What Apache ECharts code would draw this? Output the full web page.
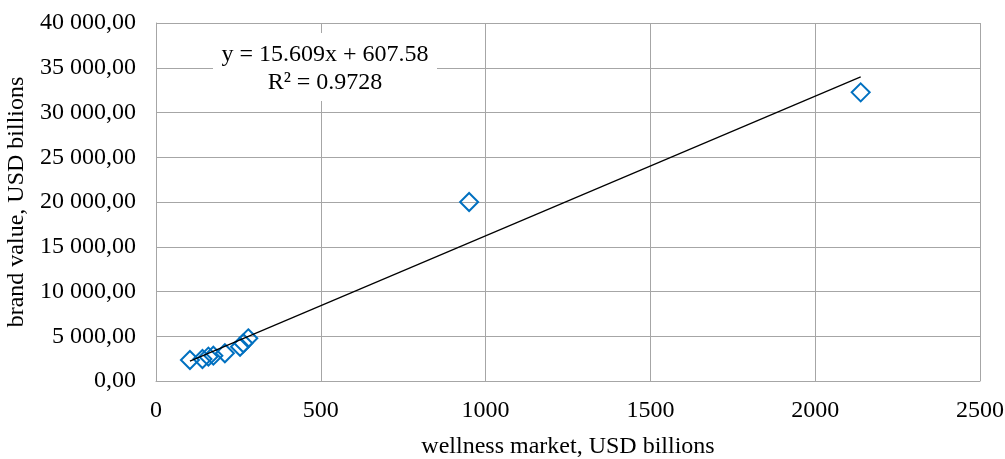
<!DOCTYPE html>
<html>
<head>
<meta charset="utf-8">
<script src="https://cdn.jsdelivr.net/npm/echarts@6/dist/echarts.min.js"></script>
<style>html,body{margin:0;padding:0;background:#fff}#c{width:1005px;height:459px}</style>
</head>
<body>
<div id="c"></div>
<script>
const wellness = [103, 141, 159, 174, 209, 255, 265, 280, 950, 2138];
const brand = [2350, 2460, 2720, 2830, 3100, 3830, 4210, 4770, 20000, 32250];
const slope = 15.609, intercept = 607.58, r2 = 0.9728;
const xTicks = [0, 500, 1000, 1500, 2000, 2500];
const yTicks = [0, 5000, 10000, 15000, 20000, 25000, 30000, 35000, 40000];

const points = wellness.map((x, i) => [x, brand[i]]);
const xMin = Math.min(...wellness), xMax = Math.max(...wellness);
const trend = [[xMin, slope * xMin + intercept], [xMax, slope * xMax + intercept]];

function fmtY(v) {
  const s = Math.round(v).toString().replace(/\B(?=(\d{3})+(?!\d))/g, ' ');
  return s + ',00';
}
const FONT = '"Liberation Serif", "Times New Roman", serif';
const grid = '#a6a6a6';
const chart = echarts.init(document.getElementById('c'));
chart.setOption({
  animation: false,
  textStyle: { fontFamily: FONT },
  grid: { left: 156, right: 25, top: 23, bottom: 78, containLabel: false, outerBoundsMode: 'none' },
  xAxis: {
    type: 'value', min: xTicks[0], max: xTicks[xTicks.length - 1], interval: 500,
    name: 'wellness market, USD billions', nameLocation: 'middle', nameGap: 54,
    nameTextStyle: { fontFamily: FONT, fontSize: 24, color: '#000' },
    axisLine: { show: true, lineStyle: { color: grid } },
    axisTick: { show: false },
    axisLabel: { fontFamily: FONT, fontSize: 24, color: '#000', margin: 18, formatter: v => String(v) },
    splitLine: { show: true, lineStyle: { color: grid, width: 1 } }
  },
  yAxis: {
    type: 'value', min: yTicks[0], max: yTicks[yTicks.length - 1], interval: 5000,
    name: 'brand value, USD billions', nameLocation: 'middle', nameGap: 124,
    nameTextStyle: { fontFamily: FONT, fontSize: 24, color: '#000' },
    axisLine: { show: true, lineStyle: { color: grid } },
    axisTick: { show: false },
    axisLabel: { fontFamily: FONT, fontSize: 24, color: '#000', margin: 20, formatter: fmtY },
    splitLine: { show: true, lineStyle: { color: grid, width: 1 } }
  },
  series: [
    {
      type: 'scatter', data: points, symbol: 'diamond', symbolSize: 18,
      itemStyle: { color: 'rgba(255,255,255,0)', borderColor: '#0070c0', borderWidth: 2, opacity: 1 },
      z: 3
    },
    {
      type: 'line', data: trend, showSymbol: false, symbol: 'none',
      lineStyle: { color: '#000', width: 1.2 }, z: 4, silent: true
    }
  ],
  graphic: [
    { type: 'rect', shape: { x: 213, y: 33, width: 224, height: 68 }, style: { fill: '#fff' }, z: 100 },
    { type: 'text', x: 325, y: 55, z: 101, style: { text: 'y = 15.609x + 607.58', font: '24px ' + FONT, fill: '#000', align: 'center', verticalAlign: 'middle' } },
    { type: 'text', x: 325, y: 83, z: 101, style: { text: 'R² = ' + r2, font: '24px ' + FONT, fill: '#000', align: 'center', verticalAlign: 'middle' } }
  ]
});
</script>
</body>
</html>
